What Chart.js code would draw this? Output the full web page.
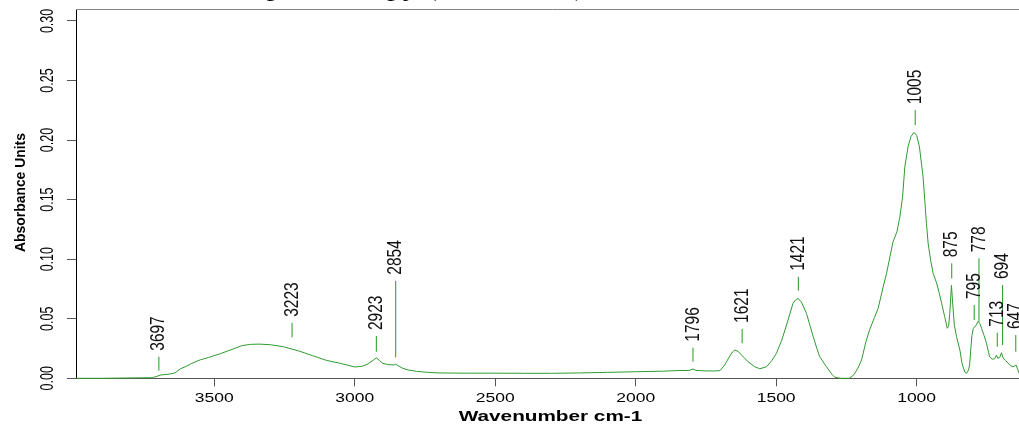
<!DOCTYPE html>
<html>
<head>
<meta charset="utf-8">
<script src="https://cdn.jsdelivr.net/npm/chart.js@4.4.1/dist/chart.umd.min.js"></script>
<style>
  html, body { margin: 0; padding: 0; background: #fff; overflow: hidden; }
  #wrap { width: 1019px; height: 426px; overflow: hidden; }
  canvas { display: block; }
</style>
</head>
<body>
<div id="wrap"><canvas id="spec" width="1029" height="426"></canvas></div>
<script>
// Spectrum trace: wavenumber (cm-1) and absorbance
const wavenumbers = [
  3992, 3900, 3800, 3720, 3700, 3690, 3660, 3640, 3620, 3600, 3580, 3550, 3520, 3480, 3440, 3400,
  3370, 3340, 3300, 3254, 3200, 3150, 3100, 3050, 3000, 2975, 2956, 2935, 2923, 2912, 2900, 2880,
  2860, 2854, 2845, 2830, 2810, 2780, 2740, 2700, 2600, 2500, 2400, 2300, 2200, 2100, 2000, 1900,
  1850, 1810, 1796, 1785, 1750, 1720, 1700, 1683, 1665, 1655, 1647, 1635, 1623, 1600, 1576, 1558,
  1534, 1515, 1499, 1480, 1463, 1440, 1430, 1422, 1410, 1392, 1368, 1355, 1345, 1321, 1300, 1291,
  1270, 1240, 1225, 1210, 1196, 1180, 1167, 1150, 1137, 1119, 1107, 1095, 1084, 1070, 1060, 1050,
  1042, 1030, 1020, 1009, 1000, 990, 977, 965, 959, 950, 941, 929, 920, 911, 900, 891,
  886, 882, 876, 872, 866, 858, 846, 838, 828, 822, 815, 811, 807, 803, 798, 790,
  781, 775, 769, 760, 751, 740, 731, 722, 716, 711, 704, 698, 692, 684, 674, 665,
  657, 650, 646, 641, 635, 620, 605
];
const absorbance = [
  0.0000, 0.0000, 0.0003, 0.0005, 0.0020, 0.0028, 0.0035, 0.0045, 0.0080, 0.0100, 0.0125, 0.0155, 0.0175, 0.0205, 0.0240, 0.0275,
  0.0285, 0.0287, 0.0282, 0.0265, 0.0230, 0.0190, 0.0150, 0.0125, 0.0095, 0.0100, 0.0117, 0.0150, 0.0172, 0.0150, 0.0125, 0.0115,
  0.0112, 0.0118, 0.0105, 0.0085, 0.0070, 0.0058, 0.0050, 0.0045, 0.0043, 0.0043, 0.0042, 0.0042, 0.0045, 0.0050, 0.0055, 0.0060,
  0.0065, 0.0066, 0.0078, 0.0066, 0.0062, 0.0062, 0.0064, 0.0112, 0.0187, 0.0222, 0.0237, 0.0225, 0.0195, 0.0139, 0.0097, 0.0080,
  0.0097, 0.0150, 0.0210, 0.0320, 0.0447, 0.0629, 0.0660, 0.0671, 0.0640, 0.0545, 0.0349, 0.0250, 0.0181, 0.0097, 0.0030, 0.0008,
  0.0000, 0.0000, 0.0025, 0.0080, 0.0154, 0.0310, 0.0410, 0.0510, 0.0587, 0.0768, 0.0880, 0.1020, 0.1146, 0.1230, 0.1350, 0.1520,
  0.1775, 0.1950, 0.2030, 0.2064, 0.2040, 0.1943, 0.1690, 0.1300, 0.1133, 0.0990, 0.0880, 0.0800, 0.0720, 0.0630, 0.0517, 0.0420,
  0.0440, 0.0545, 0.0780, 0.0640, 0.0450, 0.0350, 0.0237, 0.0120, 0.0050, 0.0042, 0.0070, 0.0120, 0.0250, 0.0360, 0.0420, 0.0440,
  0.0478, 0.0460, 0.0420, 0.0360, 0.0290, 0.0180, 0.0160, 0.0165, 0.0195, 0.0168, 0.0175, 0.0215, 0.0170, 0.0150, 0.0126, 0.0105,
  0.0097, 0.0105, 0.0112, 0.0080, 0.0042, 0.0030, 0.0020
];

// Annotated band positions with the span of each marker stroke (absorbance units)
const peakWavenumbers = [3697, 3223, 2923, 2854, 1796, 1621, 1421, 1005, 875, 795, 778, 713, 694, 647];
const markerLow  = [0.0064, 0.0344, 0.0223, 0.0176, 0.0139, 0.0294, 0.0735, 0.2125, 0.0839, 0.0489, 0.0475, 0.0265, 0.0279, 0.0223];
const markerHigh = [0.0181, 0.0466, 0.0355, 0.0819, 0.0257, 0.0414, 0.0852, 0.2251, 0.0965, 0.0615, 0.1007, 0.0383, 0.0783, 0.0363];

// Axis ticks
const xTickValues = [3500, 3000, 2500, 2000, 1500, 1000];
const yTickValues = [0.00, 0.05, 0.10, 0.15, 0.20, 0.25, 0.30];
const yTickLabels = ['0.00', '0.05', '0.10', '0.15', '0.20', '0.25', '0.30'];

const X_LEFT = 3992, X_RIGHT = 600, Y_MAX = 0.31;
const chartTitle = 'Infrared Spectroscopy (ATR-FTIR)';
const xTitle = 'Wavenumber cm-1';
const yTitle = 'Absorbance Units';

const spectrumPoints = wavenumbers.map((w, i) => ({ x: w, y: absorbance[i] }));
const markerPoints = [];
peakWavenumbers.forEach((w, i) => {
  markerPoints.push({ x: w, y: markerLow[i] }, { x: w, y: markerHigh[i] }, { x: w, y: null });
});

// Text drawn with a horizontal stretch, optionally rotated
function stretchText(ctx, str, x, y, o) {
  ctx.save();
  ctx.translate(x, y);
  ctx.scale(o.sx || 1, 1);
  if (o.rot) ctx.rotate(o.rot);
  ctx.font = o.font;
  ctx.textAlign = o.align || 'center';
  ctx.textBaseline = o.baseline || 'alphabetic';
  ctx.fillStyle = o.color || '#000';
  ctx.fillText(str, 0, 0);
  ctx.restore();
}

const textPlugin = {
  id: 'spectrumText',
  afterDraw(chart) {
    const ctx = chart.ctx;
    const xs = chart.scales.x, ys = chart.scales.y;
    const area = chart.chartArea;

    // frame top edge
    ctx.save();
    ctx.strokeStyle = '#858585';
    ctx.lineWidth = 1;
    ctx.beginPath();
    ctx.moveTo(area.left, Math.round(area.top) + 0.5);
    ctx.lineTo(area.right, Math.round(area.top) + 0.5);
    ctx.stroke();
    ctx.restore();

    // heading (mostly above the visible frame)
    stretchText(ctx, chartTitle, 140, -4, { font: '24px "Liberation Serif"', sx: 1.31, align: 'left' });

    // x tick labels
    xs.ticks.forEach(t => {
      stretchText(ctx, String(t.value), xs.getPixelForValue(t.value), 402.3,
        { font: '12.5px "Liberation Sans"', sx: 1.4 });
    });
    // y tick labels (rotated)
    ys.ticks.forEach((t, i) => {
      stretchText(ctx, yTickLabels[i], 53.3, ys.getPixelForValue(t.value),
        { font: '12.5px "Liberation Sans"', sx: 1.45, rot: -Math.PI / 2 });
    });

    // axis titles
    stretchText(ctx, xTitle, 550.5, 420.5, { font: 'bold 14px "Liberation Sans"', sx: 1.48 });
    stretchText(ctx, yTitle, 25, 192.5, { font: 'bold 13.9px "Liberation Sans"', sx: 1.05, rot: -Math.PI / 2 });

    // band labels above each marker
    peakWavenumbers.forEach((w, i) => {
      const px = xs.getPixelForValue(w);
      const py = ys.getPixelForValue(markerHigh[i]) - 6;
      stretchText(ctx, String(w), px, py,
        { font: '15.5px "Liberation Sans"', sx: 1.3, rot: -Math.PI / 2, align: 'left', baseline: 'middle', color: '#111' });
    });
  }
};

new Chart(document.getElementById('spec'), {
  type: 'line',
  data: {
    datasets: [
      {
        data: spectrumPoints,
        borderColor: '#2f9b2f',
        borderWidth: 1,
        pointRadius: 0,
        tension: 0,
        clip: 3
      },
      {
        data: markerPoints,
        borderColor: '#1e9a1e',
        borderWidth: 1,
        pointRadius: 0,
        spanGaps: false,
        tension: 0
      }
    ]
  },
  options: {
    responsive: false,
    animation: false,
    events: [],
    layout: { padding: { top: 9, left: 0, right: 0, bottom: 0 } },
    plugins: { legend: { display: false }, tooltip: { enabled: false }, title: { display: false } },
    scales: {
      x: {
        type: 'linear',
        reverse: true,
        min: X_RIGHT,
        max: X_LEFT,
        afterBuildTicks: s => { s.ticks = xTickValues.map(v => ({ value: v })); },
        afterFit: s => { s.height = 47.7; },
        ticks: { display: false },
        grid: { drawOnChartArea: false, drawTicks: true, tickLength: 8, color: '#555', lineWidth: 1 },
        border: { display: true, color: '#555', width: 1 }
      },
      y: {
        type: 'linear',
        min: 0,
        max: Y_MAX,
        afterBuildTicks: s => { s.ticks = yTickValues.map(v => ({ value: v })); },
        afterFit: s => { s.width = 76; },
        ticks: { display: false },
        grid: { drawOnChartArea: false, drawTicks: true, tickLength: 9, color: '#555', lineWidth: 1 },
        border: { display: true, color: '#000', width: 1 }
      }
    }
  },
  plugins: [textPlugin]
});
</script>
</body>
</html>
